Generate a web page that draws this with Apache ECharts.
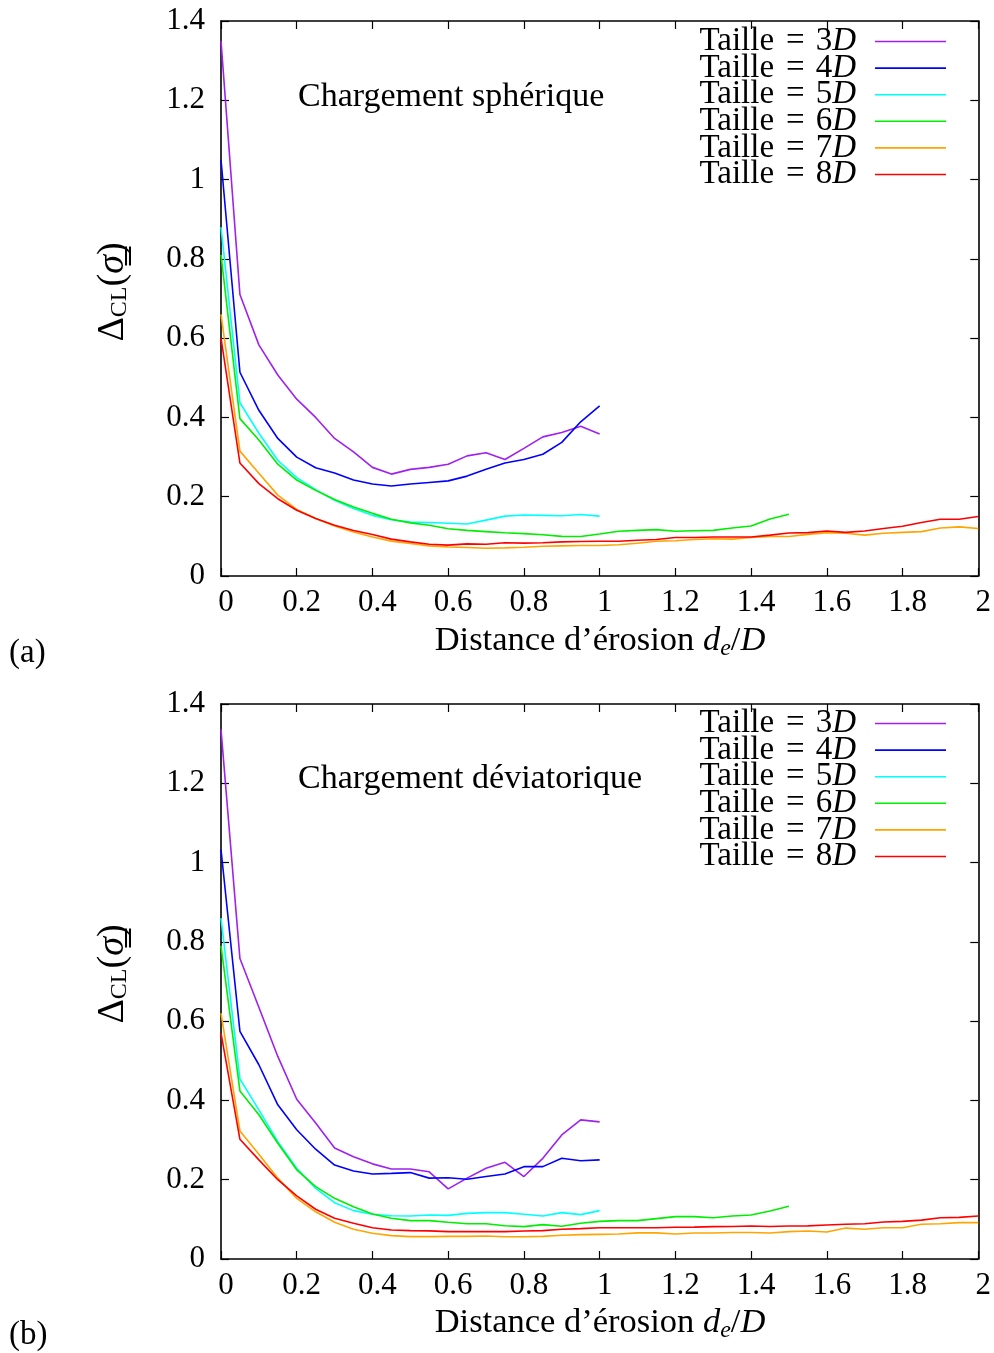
<!DOCTYPE html>
<html><head><meta charset="utf-8">
<script src="https://cdn.jsdelivr.net/npm/echarts@6/dist/echarts.min.js"></script>
<style>html,body{margin:0;padding:0;background:#fff}#c{width:994px;height:1353px}</style>
</head><body><div id="c"></div>
<script>
// x positions (d_e / D)
const xs = [0,0.05,0.1,0.15,0.2,0.25,0.3,0.35,0.4,0.45,0.5,0.55,0.6,0.65,0.7,0.75,0.8,0.85,0.9,0.95,1.0,
  1.05,1.1,1.15,1.2,1.25,1.3,1.35,1.4,1.45,1.5,1.55,1.6,1.65,1.7,1.75,1.8,1.85,1.9,1.95,2.0];
const names = ['Taille = 3D','Taille = 4D','Taille = 5D','Taille = 6D','Taille = 7D','Taille = 8D'];
const colors = ['#a020f0','#0000ff','#00ffff','#00ee00','#ffa500','#ff0000'];
const yTicks = [0,0.2,0.4,0.6,0.8,1,1.2,1.4];
const xTicks = [0,0.2,0.4,0.6,0.8,1,1.2,1.4,1.6,1.8,2];

// (a) Chargement sphérique
const a3 = [1.35,0.71,0.583,0.507,0.446,0.40,0.347,0.313,0.274,0.257,0.269,0.274,0.282,0.303,0.311,0.294,0.322,0.351,0.362,0.378,0.358];
const a4 = [1.05,0.514,0.418,0.347,0.30,0.273,0.26,0.242,0.232,0.227,0.232,0.236,0.24,0.252,0.269,0.285,0.294,0.307,0.337,0.389,0.429];
const a5 = [0.88,0.437,0.36,0.292,0.248,0.218,0.191,0.17,0.153,0.142,0.136,0.135,0.133,0.131,0.141,0.151,0.154,0.153,0.152,0.155,0.151];
const a6 = [0.81,0.397,0.343,0.282,0.242,0.216,0.193,0.174,0.158,0.143,0.134,0.128,0.119,0.115,0.112,0.109,0.107,0.104,0.100,0.0995,0.106,
  0.113,0.115,0.117,0.113,0.114,0.115,0.121,0.126,0.144,0.156];
const a7 = [0.66,0.315,0.259,0.204,0.168,0.145,0.126,0.111,0.0985,0.088,0.082,0.076,0.073,0.072,0.07,0.071,0.0725,0.075,0.076,0.077,0.077,
  0.079,0.0826,0.0876,0.089,0.092,0.094,0.093,0.097,0.0995,0.0995,0.105,0.1095,0.108,0.103,0.108,0.110,0.112,0.121,0.124,0.12];
const a8 = [0.60,0.285,0.233,0.195,0.166,0.145,0.128,0.115,0.1045,0.093,0.086,0.08,0.078,0.081,0.08,0.084,0.083,0.084,0.086,0.087,0.0876,
  0.0876,0.09,0.092,0.097,0.097,0.0985,0.0985,0.0985,0.103,0.1086,0.1095,0.1136,0.110,0.1136,0.12,0.1255,0.135,0.143,0.143,0.15];

// (b) Chargement déviatorique
const b3 = [1.336,0.758,0.635,0.511,0.403,0.343,0.28,0.258,0.24,0.227,0.227,0.22,0.177,0.204,0.229,0.244,0.208,0.254,0.313,0.351,0.346];
const b4 = [1.033,0.574,0.49,0.389,0.326,0.277,0.237,0.222,0.2146,0.216,0.218,0.204,0.205,0.201,0.208,0.2146,0.233,0.233,0.254,0.248,0.25];
const b5 = [0.86,0.454,0.376,0.296,0.229,0.178,0.142,0.122,0.113,0.109,0.1086,0.111,0.11,0.115,0.117,0.117,0.113,0.1086,0.117,0.112,0.122];
const b6 = [0.79,0.424,0.364,0.292,0.225,0.1826,0.153,0.132,0.1136,0.1027,0.0967,0.0967,0.0926,0.089,0.089,0.084,0.0816,0.0866,0.0825,0.09,0.095,
  0.0967,0.0967,0.1018,0.107,0.1068,0.104,0.1086,0.111,0.121,0.133];
const b7 = [0.62,0.323,0.264,0.204,0.153,0.119,0.0926,0.075,0.065,0.059,0.0565,0.0565,0.057,0.057,0.058,0.056,0.056,0.057,0.06,0.0614,0.0622,
  0.063,0.066,0.066,0.063,0.0656,0.0656,0.067,0.067,0.0656,0.069,0.0707,0.068,0.078,0.075,0.079,0.079,0.0876,0.089,0.0917,0.0917];
const b8 = [0.57,0.302,0.25,0.2,0.159,0.1255,0.1027,0.09,0.079,0.073,0.0715,0.071,0.069,0.069,0.069,0.069,0.0707,0.0715,0.075,0.0765,0.079,
  0.079,0.079,0.079,0.08,0.0805,0.0816,0.082,0.0833,0.082,0.0833,0.0836,0.0858,0.0876,0.089,0.0934,0.095,0.098,0.104,0.105,0.1086];

const FONT = 'Liberation Serif';
const pair = v => v.map((y,i)=>[xs[i],y]);

function xAxisPair(gi){
  const base = {gridIndex:gi,type:'value',min:0,max:2,interval:0.2,splitLine:{show:false},
    axisLine:{show:true,onZero:false,lineStyle:{color:'#000',width:1.6}},
    axisTick:{show:true,inside:true,length:8,lineStyle:{color:'#000',width:1.2}}};
  return [
    Object.assign({},base,{position:'bottom',axisLabel:{color:'#000',fontFamily:FONT,fontSize:31,margin:11,padding:[0,0,0,10]}}),
    Object.assign({},base,{position:'top',axisLabel:{show:false}})
  ];
}
function yAxisPair(gi){
  const base = {gridIndex:gi,type:'value',min:0,max:1.4,interval:0.2,splitLine:{show:false},
    axisLine:{show:true,onZero:false,lineStyle:{color:'#000',width:1.6}},
    axisTick:{show:true,inside:true,length:8,lineStyle:{color:'#000',width:1.2}}};
  return [
    Object.assign({},base,{position:'left',axisLabel:{color:'#000',fontFamily:FONT,fontSize:31,margin:16}}),
    Object.assign({},base,{position:'right',axisLabel:{show:false}})
  ];
}

const dataA = [a3,a4,a5,a6,a7,a8];
const dataB = [b3,b4,b5,b6,b7,b8];
const series = [];
dataA.forEach((d,i)=>series.push({name:names[i],type:'line',xAxisIndex:0,yAxisIndex:0,data:pair(d),
  showSymbol:false,symbol:'none',lineStyle:{color:colors[i],width:1.6},itemStyle:{color:colors[i]},animation:false}));
dataB.forEach((d,i)=>series.push({name:names[i],type:'line',xAxisIndex:2,yAxisIndex:2,data:pair(d),
  showSymbol:false,symbol:'none',lineStyle:{color:colors[i],width:1.6},itemStyle:{color:colors[i]},animation:false}));

function legend(top){
  return {orient:'vertical',right:48,top:top,padding:0,align:'right',icon:'rect',itemWidth:71,itemHeight:1.6,itemGap:-6.4,
    selectedMode:false,data:names,
    formatter:n=>'{n|Taille}{e|=}{n|'+n.slice(9,-1)+'}{i|D}',
    textStyle:{rich:{
      n:{fontFamily:FONT,fontSize:33,color:'#000'},
      e:{fontFamily:FONT,fontSize:33,color:'#000',padding:[0,11,0,12]},
      i:{fontFamily:FONT,fontSize:33,fontStyle:'italic',color:'#000',padding:[0,14,0,0]}}}};
}

const ylabRich = {
  d:{fontFamily:FONT,fontSize:38,color:'#000'},
  s:{fontFamily:FONT,fontSize:24,color:'#000',padding:[13,0,0,0]},
  p:{fontFamily:FONT,fontSize:38,color:'#000'},
  g:{fontFamily:FONT,fontSize:38,fontStyle:'italic',color:'#000'}
};
const xlabRich = {
  n:{fontFamily:FONT,fontSize:34.5,color:'#000'},
  i:{fontFamily:FONT,fontSize:34.5,fontStyle:'italic',color:'#000'},
  sub:{fontFamily:FONT,fontSize:24,fontStyle:'italic',color:'#000',padding:[16,0,0,0]}
};
function graphics(off, title){
  return [
    {type:'text',left:298,top:80+off,style:{text:title,font:'34px "Liberation Serif"',fill:'#000'}},
    {type:'text',x:600,y:641+off,style:{text:'{n|Distance d’érosion }{i|d}{sub|e}{n|/}{i|D}',rich:xlabRich,align:'center',verticalAlign:'middle'}},
    {type:'text',x:113,y:292+off,rotation:Math.PI/2,style:{text:'{d|Δ}{s|CL}{p|(}{g|σ\u0333}{p|)}',rich:ylabRich,align:'center',verticalAlign:'middle'}},
    {type:'text',left:9,top:637+off,style:{text:off===0?'(a)':'(b)',font:'33px "Liberation Serif"',fill:'#000'}}
  ];
}

const chart = echarts.init(document.getElementById('c'),null,{renderer:'canvas'});
chart.setOption({
  animation:false,
  backgroundColor:'#fff',
  grid:[{left:221,top:21,width:758,height:555},{left:221,top:704,width:758,height:555}],
  xAxis:[...xAxisPair(0),...xAxisPair(1)],
  yAxis:[...yAxisPair(0),...yAxisPair(1)],
  legend:[legend(25),legend(707)],
  series:series,
  graphic:[...graphics(0,'Chargement sphérique'),...graphics(682,'Chargement déviatorique')]
});
</script></body></html>
